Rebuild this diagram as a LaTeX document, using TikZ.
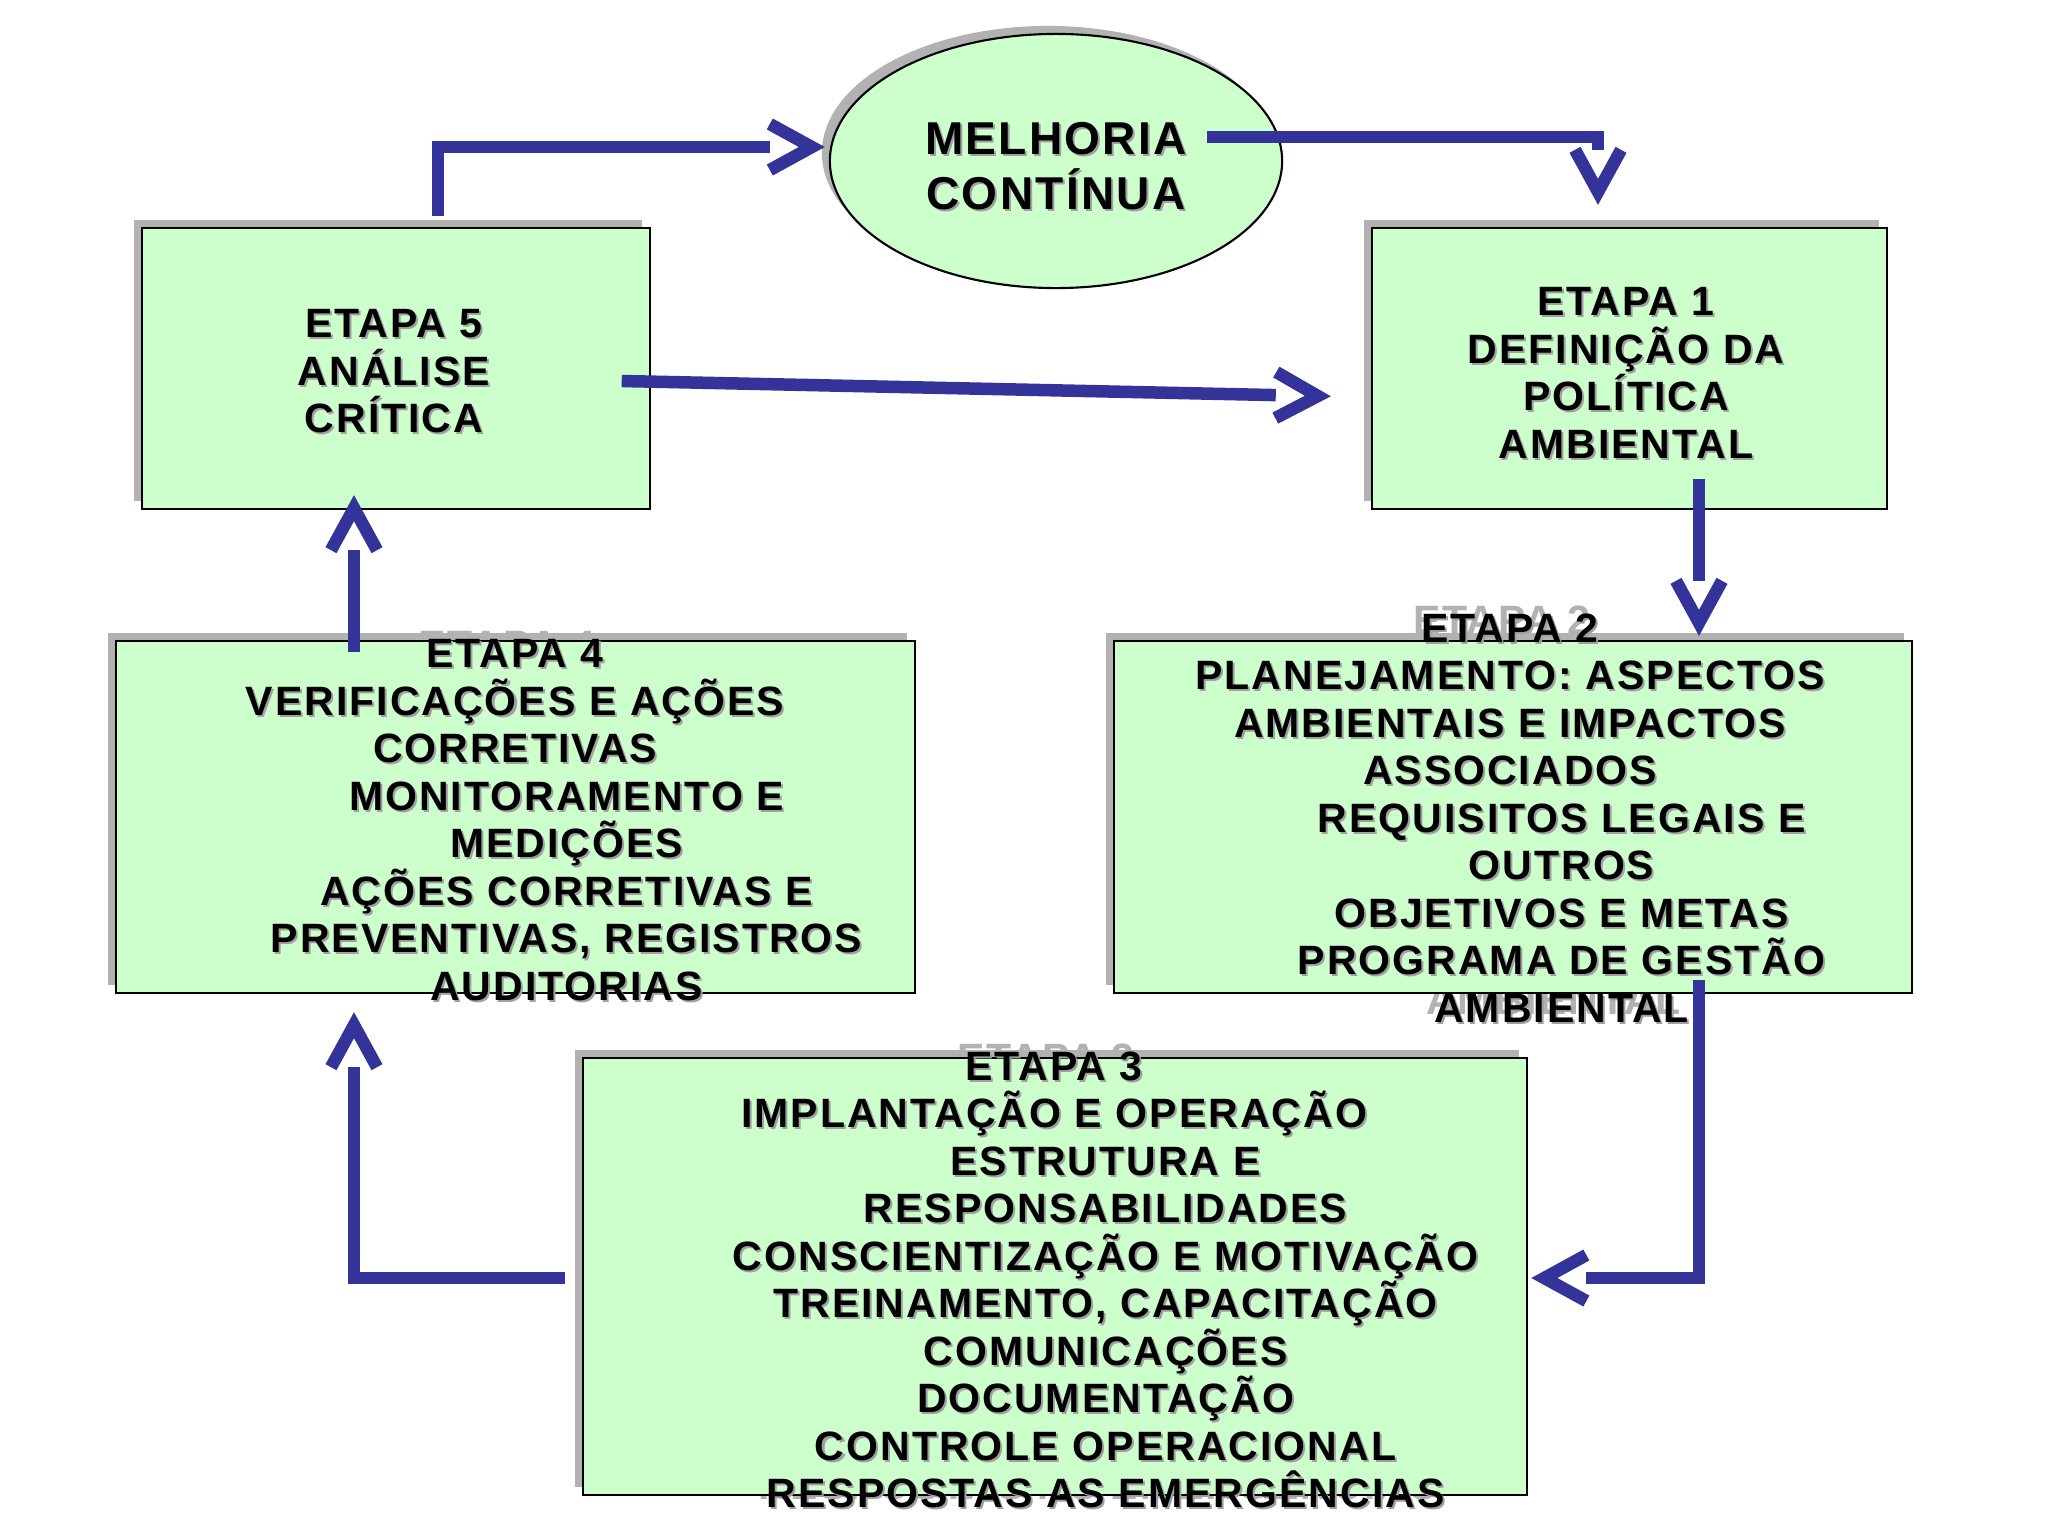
\documentclass[tikz,border=0pt]{standalone}
\usepackage{fontspec}
\setmainfont{Liberation Sans}[LetterSpace=5]
\usetikzlibrary{shapes.geometric, shadows, calc, arrows.meta}

\definecolor{boxgreen}{RGB}{204,255,204}
\definecolor{flowblue}{RGB}{51,51,153}
\definecolor{shadowgray}{RGB}{178,178,178}
\definecolor{softgray}{RGB}{160,160,160}

% Open chevron tip, the line stops at its base

\pgfdeclarearrow{
	name = Chevron,
	parameters = {\the\pgfarrowlength,\the\pgfarrowwidth},
	setup code = {
		\pgfarrowssettipend{0pt}
		\pgfarrowssetlineend{-\pgfarrowlength}
		\pgfarrowssetbackend{-\pgfarrowlength}
		\pgfarrowshullpoint{0pt}{0pt}
		\pgfarrowsupperhullpoint{-\pgfarrowlength}{.5\pgfarrowwidth}
		\pgfarrowssavethe\pgfarrowlength
		\pgfarrowssavethe\pgfarrowwidth
	},
	drawing code = {
		\pgfsetmiterjoin
		\pgfsetbuttcap
		\pgfpathmoveto{\pgfqpoint{-\pgfarrowlength}{.5\pgfarrowwidth}}
		\pgfpathlineto{\pgfqpoint{0pt}{0pt}}
		\pgfpathlineto{\pgfqpoint{-\pgfarrowlength}{-.5\pgfarrowwidth}}
		\pgfusepathqstroke
	},
	defaults = {length = 4mm, width = 4.6mm}
}

\begin{document}
\begin{tikzpicture}[x = 0.01cm, y = -0.01cm,
	stage/.style = {draw = black, line width = 0.6pt, fill = boxgreen, inner sep = 0pt,
		drop shadow = {shadow xshift = -0.08cm, shadow yshift = 0.08cm, fill = shadowgray, opacity = 1}},
	stagetext/.style = {anchor = north, inner sep = 0pt, text width = 10cm, align = center,
		font = \fontsize{11.65}{13.5}\selectfont\bfseries},
	bigtext/.style = {stagetext, font = \fontsize{13.1}{15.6}\selectfont\bfseries},
	ghost/.style = {text = shadowgray, xshift = -0.08cm, yshift = 0.08cm},
	soft/.style = {text = softgray, xshift = 0.02cm, yshift = -0.02cm},
	flow/.style = {draw = flowblue, line width = 0.125cm, -{Chevron[length = 0.42cm, width = 0.46cm]}}]

% Definitions

\def\In{\hspace*{1.03cm}}	% Indent of the second group of lines
\def\Tmc{MELHORIA\\CONTÍNUA}
\def\Tum{ETAPA 1\\DEFINIÇÃO DA\\POLÍTICA\\AMBIENTAL}
\def\Tdois{ETAPA 2\\PLANEJAMENTO: ASPECTOS\\AMBIENTAIS E IMPACTOS\\ASSOCIADOS\\\In REQUISITOS LEGAIS E\\\In OUTROS\\\In OBJETIVOS E METAS\\\In PROGRAMA DE GESTÃO\\\In AMBIENTAL}
\def\Ttres{ETAPA 3\\IMPLANTAÇÃO E OPERAÇÃO\\\In ESTRUTURA E\\\In RESPONSABILIDADES\\\In CONSCIENTIZAÇÃO E MOTIVAÇÃO\\\In TREINAMENTO, CAPACITAÇÃO\\\In COMUNICAÇÕES\\\In DOCUMENTAÇÃO\\\In CONTROLE OPERACIONAL\\\In RESPOSTAS AS EMERGÊNCIAS}
\def\Tquatro{ETAPA 4\\VERIFICAÇÕES E AÇÕES\\CORRETIVAS\\\In MONITORAMENTO E\\\In MEDIÇÕES\\\In AÇÕES CORRETIVAS E\\\In PREVENTIVAS, REGISTROS\\\In AUDITORIAS}
\def\Tcinco{ETAPA 5\\ANÁLISE\\CRÍTICA}

\fill [white] (0, 0) rectangle (2048, 1536);
\useasboundingbox (0, 0) rectangle (2048, 1536);

% Shadows of the texts

\node [stagetext, ghost] (g5) at (394, 309) {\Tcinco};
\node [stagetext, ghost] (g1) at (1626, 287) {\Tum};
\node [stagetext, ghost] (g2) at (1510, 613) {\Tdois};
\node [stagetext, ghost] (g3) at (1054, 1051) {\Ttres};
\node [stagetext, ghost] (g4) at (515, 639) {\Tquatro};

% Shapes

\node [stage, ellipse, minimum width = 4.52cm, minimum height = 2.54cm] (mc) at (1056, 161) {};
\node [stage, minimum width = 5.07cm, minimum height = 2.81cm] (e5) at (396, 368.5) {};
\node [stage, minimum width = 5.15cm, minimum height = 2.81cm] (e1) at (1629.5, 368.5) {};
\node [stage, minimum width = 7.99cm, minimum height = 3.52cm] (e4) at (515.5, 817) {};
\node [stage, minimum width = 7.98cm, minimum height = 3.52cm] (e2) at (1513, 817) {};
\node [stage, minimum width = 9.44cm, minimum height = 4.37cm] (e3) at (1055, 1276.5) {};

% Texts

\node [bigtext, soft] (smc) at (1056, 122) {\Tmc};
\node [bigtext] (tmc) at (1056, 122) {\Tmc};
\node [stagetext, soft] (s5) at (394, 309) {\Tcinco};
\node [stagetext] (t5) at (394, 309) {\Tcinco};
\node [stagetext, soft] (s1) at (1626, 287) {\Tum};
\node [stagetext] (t1) at (1626, 287) {\Tum};
\node [stagetext, soft] (s2) at (1510, 613) {\Tdois};
\node [stagetext] (t2) at (1510, 613) {\Tdois};
\node [stagetext, soft] (s3) at (1054, 1051) {\Ttres};
\node [stagetext] (t3) at (1054, 1051) {\Ttres};
\node [stagetext, soft] (s4) at (515, 639) {\Tquatro};
\node [stagetext] (t4) at (515, 639) {\Tquatro};

% Cycle

\draw [flow] ($(e5.north) + (42, -11)$) |- ($(mc.west) + (-17, -14)$);
\draw [flow] ($(mc.east) + (-76, -24)$) -| ($(e1.north) + (-31.5, -35)$);
\draw [flow] ($(e5.east) + (-29, 12.5)$) -- ($(e1.west) + (-53, 27.5)$);
\draw [flow] ($(e1.south) + (69.5, -31)$) -- ($(e2.north) + (186, -17)$);
\draw [flow] ($(e2.south) + (186, -14)$) |- ($(e3.east) + (16, 1.5)$);
\draw [flow] ($(e3.west) + (-17, 1.5)$) -| ($(e4.south) + (-161.5, 31)$);
\draw [flow] ($(e4.north) + (-161.5, 12)$) -- ($(e5.south) + (-42, -2)$);

\end{tikzpicture}
\end{document}
